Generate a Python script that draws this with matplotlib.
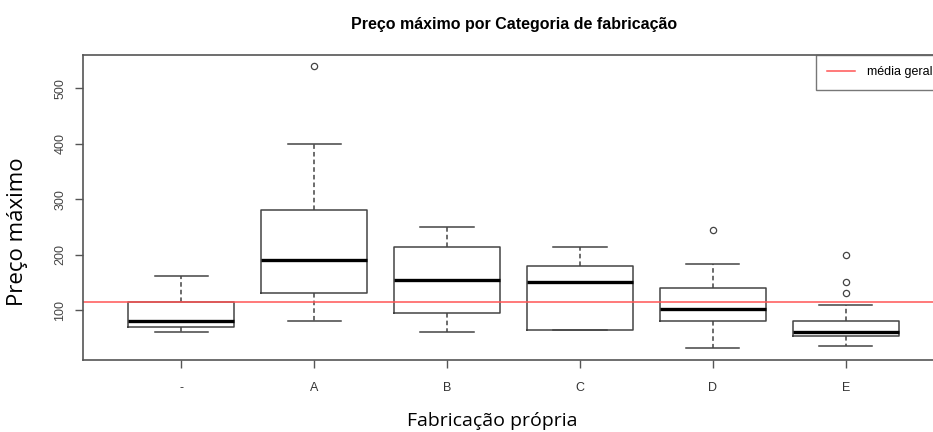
import matplotlib.pyplot as plt

categorias = ['-', 'A', 'B', 'C', 'D', 'E']
whislo = [61, 81, 61, 65, 31, 36]
q1 = [69, 131, 95, 65, 80, 53]
med = [81, 191, 155, 150, 102, 61]
q3 = [115, 280, 214, 180, 140, 80]
whishi = [161, 399, 250, 214, 184, 110]
outliers = [[], [540], [], [], [245], [200, 151, 131]]
media_geral = 114

stats = []
for i in range(len(categorias)):
    stats.append({'whislo': whislo[i], 'q1': q1[i], 'med': med[i], 'q3': q3[i],
                  'whishi': whishi[i], 'fliers': outliers[i], 'label': categorias[i]})

fig = plt.figure(figsize=(9.33, 4.32), dpi=100)
ax = fig.add_axes([83/933, 1 - 360/432, (944 - 83)/933, (360 - 55)/432])

edge = '#444444'
ax.bxp(stats, positions=range(1, 7), widths=0.8, patch_artist=False,
       boxprops=dict(color=edge, linewidth=1.1),
       medianprops=dict(color='black', linewidth=2.4),
       whiskerprops=dict(color=edge, linewidth=1.1, linestyle=(0, (3, 2))),
       capprops=dict(color=edge, linewidth=1.1), capwidths=0.4,
       flierprops=dict(marker='o', markersize=4.5, markerfacecolor='none',
                       markeredgecolor=edge, markeredgewidth=0.9))

ax.axhline(media_geral, color='#ff5555', linewidth=1.1, label='média geral')

ax.set_xlim(0.26, 6.74)
ax.set_ylim(10, 560)
ax.set_yticks([100, 200, 300, 400, 500])
ax.set_xticks(range(1, 7))
ax.set_xticklabels(categorias, fontsize=9, family='Liberation Sans', color='#333333')
for lbl in ax.get_yticklabels():
    lbl.set_rotation(90)
    lbl.set_va('center')
    lbl.set_fontsize(9)
    lbl.set_family('Liberation Sans')
    lbl.set_color('#444444')
ax.tick_params(axis='both', direction='out', length=6, color='#555555', width=1)
ax.tick_params(axis='x', pad=10)
ax.tick_params(axis='y', pad=6)
for s in ax.spines.values():
    s.set_color('#555555')
    s.set_linewidth(1.2)

# titulo e rotulos posicionados na figura
fig.text(514/933, 1 - 24/432, 'Preço máximo por Categoria de fabricação', fontsize=11.5,
         fontweight='bold', family='Liberation Sans', ha='center', va='center')
fig.text(18/933, 1 - 232/432, 'Preço máximo', fontsize=16, family='Open Sans',
         rotation=90, ha='center', va='center')
fig.text(492/933, 1 - 421/432, 'Fabricação própria', fontsize=14, family='Open Sans',
         ha='center', va='center')

leg = ax.legend(loc='upper right', bbox_to_anchor=(1, 1), borderaxespad=0,
                fancybox=False, frameon=True, prop={'family': 'Liberation Sans', 'size': 9},
                handlelength=2.2, borderpad=0.9, handletextpad=1.0)
leg.get_frame().set_edgecolor('#555555')
leg.get_frame().set_linewidth(1.0)

plt.savefig('out.png', dpi=100)
